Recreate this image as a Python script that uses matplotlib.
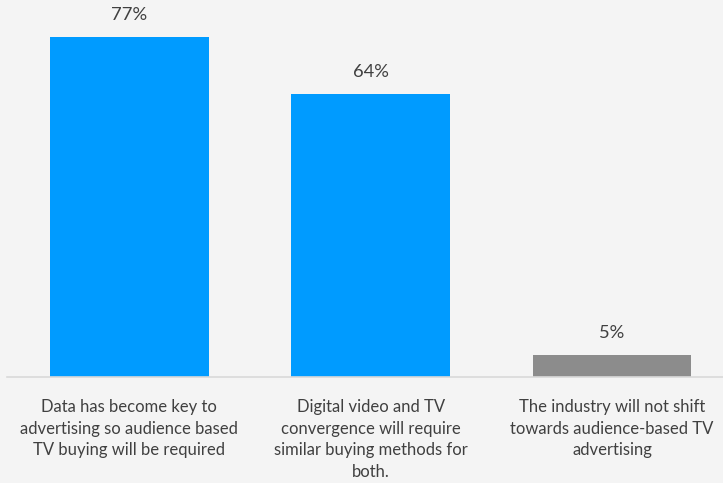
import matplotlib.pyplot as plt

categories = [
    "Data has become key to\nadvertising so audience based\nTV buying will be required",
    "Digital video and TV\nconvergence will require\nsimilar buying methods for\nboth.",
    "The industry will not shift\ntowards audience-based TV\nadvertising",
]
values = [77, 64, 5]
value_labels = ["77%", "64%", "5%"]
colors = ["#009BFF", "#009BFF", "#8C8C8C"]

plt.rcParams['font.family'] = ['Lato', 'DejaVu Sans']

fig = plt.figure(figsize=(7.23, 4.83), dpi=100, facecolor="#F4F4F4")
ax = fig.add_axes([7 / 723, 106 / 483, 716 / 723, 377 / 483])
ax.set_facecolor("#F4F4F4")

x = range(len(values))
bars = ax.bar(x, values, width=0.658, color=colors, zorder=2)
for b, lab in zip(bars, value_labels):
    ax.annotate(lab, (b.get_x() + b.get_width() / 2, b.get_height()),
                xytext=(0, 22), textcoords="offset pixels",
                ha="center", va="center", fontsize=13.2, color="#404040")

ax.set_xlim(-0.507, 2.46)
ax.set_ylim(0, 85.4)
ax.set_xticks(list(x))
ax.set_xticklabels(categories, fontsize=12, color="#404040", linespacing=1.42)
ax.tick_params(axis="x", length=0, pad=16)
ax.set_yticks([])
for s in ["top", "right", "left"]:
    ax.spines[s].set_visible(False)
ax.spines["bottom"].set_color("#D9D9D9")
ax.spines["bottom"].set_linewidth(1.2)

fig.savefig("out.png", dpi=100, facecolor=fig.get_facecolor())
